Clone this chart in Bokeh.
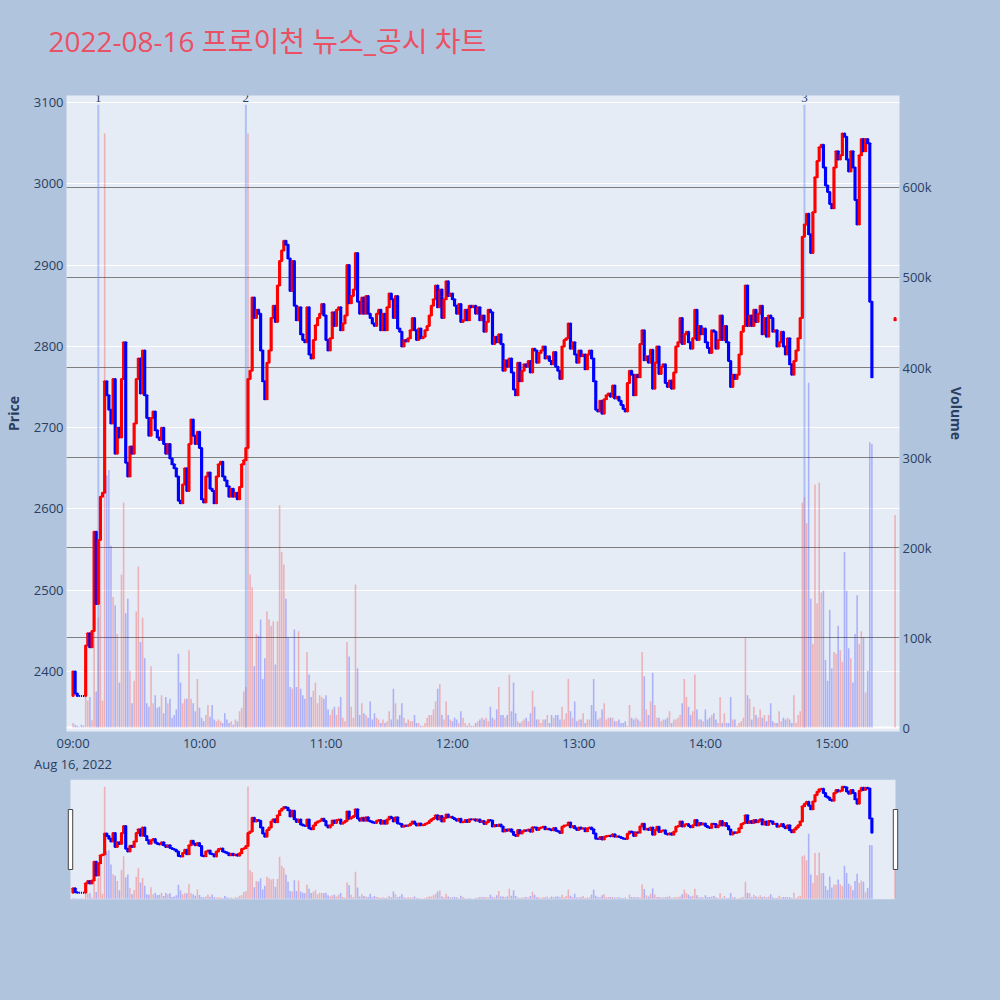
import pandas as pd
from bokeh.plotting import figure
from bokeh.models import (ColumnDataSource, Range1d, LinearAxis, Grid, FixedTicker,
                          DatetimeTickFormatter, LabelSet, Title, BoxAnnotation, Span)
from bokeh.layouts import column
from bokeh.embed import file_html
from bokeh.resources import INLINE

TITLE = "2022-08-16 프로이천 뉴스_공시 차트"
SESSION_START = "2022-08-16 09:00"
FIRST_OPEN = 2370

# minute closes, 09:00 - 10:36
close_a = [
    2400, 2373, 2370, 2370, 2370, 2370, 2432, 2447, 2430, 2450,
    2572, 2483, 2562, 2615, 2620, 2757, 2740, 2722, 2705, 2760,
    2668, 2700, 2688, 2760, 2805, 2657, 2640, 2677, 2668, 2705,
    2760, 2785, 2742, 2795, 2740, 2712, 2690, 2712, 2720, 2697,
    2688, 2685, 2700, 2680, 2668, 2680, 2662, 2655, 2650, 2640,
    2610, 2607, 2630, 2650, 2622, 2680, 2710, 2690, 2680, 2695,
    2675, 2612, 2608, 2640, 2645, 2625, 2622, 2607, 2640, 2655,
    2658, 2640, 2635, 2628, 2615, 2625, 2615, 2620, 2612, 2627,
    2655, 2660, 2675, 2760, 2770, 2860, 2835, 2845, 2840, 2795,
    2757, 2735, 2780, 2795, 2835, 2850, 2830]
# 10:37 - 12:16
close_b = [
    2875, 2905, 2918, 2930, 2925, 2908, 2868, 2905, 2850, 2832,
    2848, 2815, 2808, 2805, 2848, 2790, 2785, 2808, 2826, 2835,
    2840, 2852, 2838, 2808, 2795, 2810, 2842, 2825, 2845, 2848,
    2820, 2828, 2838, 2900, 2853, 2862, 2870, 2915, 2855, 2840,
    2860, 2840, 2862, 2840, 2835, 2828, 2825, 2840, 2845, 2820,
    2840, 2820, 2848, 2865, 2858, 2835, 2862, 2822, 2818, 2800,
    2808, 2806, 2810, 2820, 2835, 2820, 2808, 2822, 2810, 2812,
    2820, 2825, 2838, 2850, 2858, 2875, 2848, 2870, 2835, 2858,
    2880, 2862, 2865, 2858, 2850, 2840, 2852, 2830, 2832, 2845,
    2832, 2850, 2848, 2850, 2840, 2848, 2832, 2838, 2818, 2830]
# 12:17 - 13:53
close_c = [
    2845, 2842, 2803, 2812, 2805, 2815, 2803, 2770, 2783, 2775,
    2785, 2768, 2747, 2740, 2780, 2757, 2770, 2778, 2775, 2782,
    2768, 2797, 2795, 2780, 2792, 2795, 2800, 2785, 2788, 2782,
    2778, 2793, 2775, 2770, 2760, 2800, 2808, 2810, 2828, 2797,
    2805, 2790, 2780, 2795, 2788, 2790, 2772, 2790, 2795, 2785,
    2757, 2722, 2720, 2733, 2717, 2735, 2740, 2742, 2738, 2752,
    2736, 2738, 2733, 2728, 2723, 2720, 2755, 2770, 2765, 2740,
    2765, 2762, 2803, 2820, 2783, 2788, 2780, 2796, 2748, 2780,
    2800, 2766, 2775, 2778, 2755, 2750, 2758, 2748, 2768, 2800,
    2805, 2835, 2803, 2815, 2818, 2805, 2797]
# 13:54 - 15:19
close_d = [
    2810, 2845, 2808, 2825, 2815, 2822, 2805, 2798, 2792, 2820,
    2818, 2797, 2808, 2838, 2808, 2825, 2805, 2782, 2750, 2765,
    2760, 2765, 2790, 2818, 2825, 2875, 2825, 2838, 2825, 2845,
    2830, 2840, 2850, 2815, 2835, 2812, 2838, 2835, 2818, 2820,
    2800, 2805, 2818, 2800, 2790, 2810, 2778, 2765, 2782, 2795,
    2810, 2835,
    2935, 2950, 2963, 2938, 2915, 2965, 3008, 3028, 3045, 3048,
    3020, 2998, 2990, 2975, 2970, 3020, 3040, 3030, 3035, 3062,
    3058, 3030, 3015, 3040, 3020, 2980, 2950, 3035, 3055, 3040,
    3055, 3050, 2855, 2762]

# minute volumes (thousand shares)
volume_k_a = [
    5, 3, 2, 1, 3, 2, 36, 30, 34, 8,
    168, 40, 122, 256, 30, 660, 280, 286, 202, 145,
    136, 104, 50, 170, 250, 127, 143, 63, 27, 52,
    129, 179, 95, 122, 77, 27, 23, 68, 27, 36,
    22, 23, 36, 16, 34, 27, 32, 11, 14, 20,
    82, 50, 27, 32, 32, 86, 32, 27, 18, 54,
    22, 11, 7, 14, 25, 12, 25, 9, 7, 9,
    7, 5, 16, 9, 5, 7, 3, 9, 7, 18,
    22, 40, 45, 660, 170, 156, 68, 104, 102, 120,
    54, 77, 129, 120, 113, 118, 70]
volume_k_b = [
    118, 247, 195, 181, 143, 100, 45, 43, 109, 45,
    107, 43, 36, 32, 84, 59, 34, 41, 50, 27,
    36, 34, 32, 36, 20, 14, 20, 23, 14, 23,
    34, 11, 7, 95, 79, 23, 11, 159, 66, 14,
    27, 16, 14, 11, 29, 9, 16, 11, 9, 5,
    9, 5, 7, 18, 9, 43, 27, 9, 14, 27,
    11, 5, 9, 7, 7, 14, 5, 5, 2, 2,
    5, 11, 14, 14, 20, 29, 43, 48, 14, 9,
    29, 14, 9, 7, 11, 9, 5, 18, 11, 5,
    2, 5, 2, 2, 5, 7, 9, 11, 9, 11]
volume_k_c = [
    7, 23, 11, 9, 20, 45, 14, 14, 11, 14,
    59, 18, 50, 16, 7, 5, 7, 9, 11, 7,
    16, 41, 23, 9, 9, 5, 9, 9, 14, 5,
    14, 11, 14, 14, 9, 23, 9, 16, 54, 18,
    11, 29, 7, 9, 9, 16, 5, 9, 9, 25,
    54, 18, 9, 11, 20, 27, 9, 11, 11, 11,
    7, 7, 9, 5, 5, 7, 2, 25, 11, 9,
    11, 9, 7, 84, 57, 20, 14, 29, 61, 25,
    11, 11, 7, 9, 9, 11, 18, 5, 9, 9,
    11, 14, 27, 54, 34, 23, 14]
volume_k_d = [
    18, 59, 20, 9, 9, 7, 20, 9, 11, 14,
    16, 9, 5, 34, 5, 16, 5, 5, 34, 9,
    9, 2, 5, 7, 11, 100, 36, 32, 9, 23,
    14, 11, 20, 11, 14, 7, 14, 27, 7, 5,
    5, 18, 7, 11, 9, 11, 9, 5, 36, 5,
    14, 18,
    250, 256, 227, 383, 143, 93, 270, 138, 272, 150,
    152, 75, 52, 131, 66, 84, 82, 113, 86, 73,
    195, 152, 88, 77, 50, 104, 147, 93, 107, 100,
    39, 63, 317, 315]

# closing single-price auction
AUCTION_TIME = "2022-08-16 15:30"
auction_open = 2832
auction_close = 2835
auction_volume_k = 236

event_times = ["2022-08-16 09:12", "2022-08-16 10:22", "2022-08-16 14:47"]
event_labels = ["1", "2", "3"]

price_ticks = [2400, 2500, 2600, 2700, 2800, 2900, 3000, 3100]
volume_ticks = [0, 100000, 200000, 300000, 400000, 500000, 600000]
volume_tick_labels = ["0", "100k", "200k", "300k", "400k", "500k", "600k"]
hour_ticks = ["09:00", "10:00", "11:00", "12:00", "13:00", "14:00", "15:00"]

# ---------------------------------------------------------------- styling
PAGE_BG = "#B0C4DE"
PLOT_BG = "#E5ECF6"
TXT = "#2a3f5f"
UP = "#FF0000"
DOWN = "#0000FF"
FONT = "'Open Sans', 'Noto Sans CJK KR', sans-serif"
PRICE_RANGE = (2326.3, 3108.6)
VOL_RANGE = (-4400, 702200)


def ms(ts):
    return pd.Timestamp(ts).value // 10**6


MIN = 60000
t0 = ms(SESSION_START)
closes = close_a + close_b + close_c + close_d
vols_k = volume_k_a + volume_k_b + volume_k_c + volume_k_d
opens = [FIRST_OPEN] + closes[:-1]
times = [t0 + i * MIN for i in range(len(closes))]
times.append(ms(AUCTION_TIME))
opens.append(auction_open)
closes = closes + [auction_close]
vols = [v * 1000 for v in vols_k] + [auction_volume_k * 1000]
colors = [UP if c > o else DOWN for o, c in zip(opens, closes)]
src = ColumnDataSource(dict(
    t=times,
    top=[max(o, c) for o, c in zip(opens, closes)],
    bottom=[min(o, c) for o, c in zip(opens, closes)],
    color=colors,
    vol=vols,
))

# x range: data region plus a small plot padding
data_start = t0 - 1.2 * MIN
data_end = t0 + 390.2 * MIN
FRAME_W = 833
px_per_ms = 825 / (data_end - data_start)
xs = data_start - 4 / px_per_ms
xe = data_end + 4 / px_per_ms

ev_t = [ms(t) for t in event_times]
ev_src = ColumnDataSource(dict(t=ev_t, label=event_labels,
                               y=[PRICE_RANGE[1]] * len(ev_t)))

# ---------------------------------------------------------------- main chart
p = figure(title=None, x_range=Range1d(xs, xe), y_range=Range1d(*PRICE_RANGE),
           frame_width=FRAME_W, frame_height=636,
           min_border_left=60, min_border_right=91, min_border_top=95,
           min_border_bottom=48,
           output_backend="svg", toolbar_location=None,
           background_fill_color=PLOT_BG, border_fill_color=PAGE_BG,
           outline_line_color=None)
p.extra_y_ranges = {"vol": Range1d(*VOL_RANGE)}

# spacer between the chart title and the plot area, then the title itself
p.add_layout(Title(text=" ", text_font_size="10px", standoff=18,
                   text_color=PAGE_BG), "above")
p.add_layout(Title(text=TITLE, text_font=FONT, text_font_size="28px",
                   text_font_style="normal", text_color="#EB5064",
                   align="left", offset=-18, standoff=10), "above")

p.xgrid.visible = False
p.ygrid.grid_line_color = "white"
p.ygrid.grid_line_width = 1

vol_grid = Grid(dimension=1, ticker=FixedTicker(ticks=volume_ticks[1:]),
                y_range_name="vol", grid_line_color="#7F7F7F", grid_line_width=1)
p.add_layout(vol_grid)
p.add_layout(Span(location=0, dimension="width", y_range_name="vol",
                  line_color="white", line_width=2, level="underlay"))

xaxis = p.xaxis[0]
xaxis.ticker = FixedTicker(ticks=[ms("2022-08-16 " + h) for h in hour_ticks])
xaxis.formatter = DatetimeTickFormatter(
    hours="%H:%M", hourmin="%H:%M",
    context=DatetimeTickFormatter(hours="%b %d, %Y", hourmin="%b %d, %Y"),
    context_which="start")

yaxis = p.yaxis[0]
yaxis.ticker = FixedTicker(ticks=price_ticks)
yaxis.axis_label = "Price"

vaxis = LinearAxis(y_range_name="vol", ticker=FixedTicker(ticks=volume_ticks),
                   major_label_overrides=dict(zip(volume_ticks, volume_tick_labels)),
                   axis_label="Volume")
p.add_layout(vaxis, "right")

for ax in (xaxis, yaxis, vaxis):
    ax.axis_line_color = None
    ax.major_tick_line_color = None
    ax.minor_tick_line_color = None
    ax.major_tick_out = 0
    ax.major_tick_in = 0
    ax.minor_tick_out = 0
    ax.minor_tick_in = 0
    ax.major_label_text_font = FONT
    ax.major_label_text_font_size = "13px"
    ax.major_label_text_color = TXT
    ax.major_label_standoff = 3
    ax.axis_label_text_font = FONT
    ax.axis_label_text_font_size = "14px"
    ax.axis_label_text_font_style = "bold"
    ax.axis_label_text_color = TXT
xaxis.major_label_standoff = 2
yaxis.axis_label_standoff = 8
vaxis.axis_label_standoff = 12

# volume bars
p.vbar(x="t", width=0.75 * MIN, top="vol", bottom=0, fill_color="color",
       fill_alpha=0.25, line_color=None, y_range_name="vol", source=src)
# news event lines
p.segment(x0="t", x1="t", y0=0, y1=692000, y_range_name="vol",
          line_color="#6D8FF0", line_alpha=0.45, line_width=2, source=ev_src)
# candles
p.vbar(x="t", width=0.55 * MIN, top="top", bottom="bottom", fill_color="color",
       line_color="color", line_width=2, source=src)

p.add_layout(LabelSet(x="t", y="y", text="label", source=ev_src,
                      text_align="center", text_baseline="alphabetic",
                      y_offset=-6, text_font=FONT, text_font_size="13px",
                      text_color=TXT))

# ---------------------------------------------------------------- range slider
s = figure(x_range=Range1d(xs, xe), y_range=Range1d(*PRICE_RANGE),
           frame_width=FRAME_W, frame_height=120,
           min_border_left=60, min_border_right=91, min_border_top=0,
           min_border_bottom=10, x_axis_type=None, y_axis_type=None,
           output_backend="svg", toolbar_location=None,
           background_fill_color=PAGE_BG, border_fill_color=PAGE_BG,
           outline_line_color=None)
s.extra_y_ranges = {"vol": Range1d(*VOL_RANGE)}
s.add_layout(BoxAnnotation(left=data_start, right=data_end, fill_color=PLOT_BG,
                           fill_alpha=1, line_color=None, level="underlay"))
s.vbar(x="t", width=0.75 * MIN, top="vol", bottom=0, fill_color="color",
       fill_alpha=0.25, line_color=None, y_range_name="vol", source=src)
s.vbar(x="t", width=0.55 * MIN, top="top", bottom="bottom", fill_color="color",
       line_color="color", line_width=2, source=src)
hw = 2.2 / px_per_ms
prng = PRICE_RANGE[1] - PRICE_RANGE[0]
s.quad(left=[data_start - hw, data_end - hw], right=[data_start + hw, data_end + hw],
       top=[PRICE_RANGE[1] - 0.25 * prng] * 2, bottom=[PRICE_RANGE[1] - 0.75 * prng] * 2,
       fill_color="white", line_color="#444444", line_width=1)

layout = column(p, s)
html = file_html(layout, INLINE, title=TITLE)
html = html.replace("</head>", "<style>body{background:#B0C4DE;}</style></head>", 1)
open("out.html", "w").write(html)
